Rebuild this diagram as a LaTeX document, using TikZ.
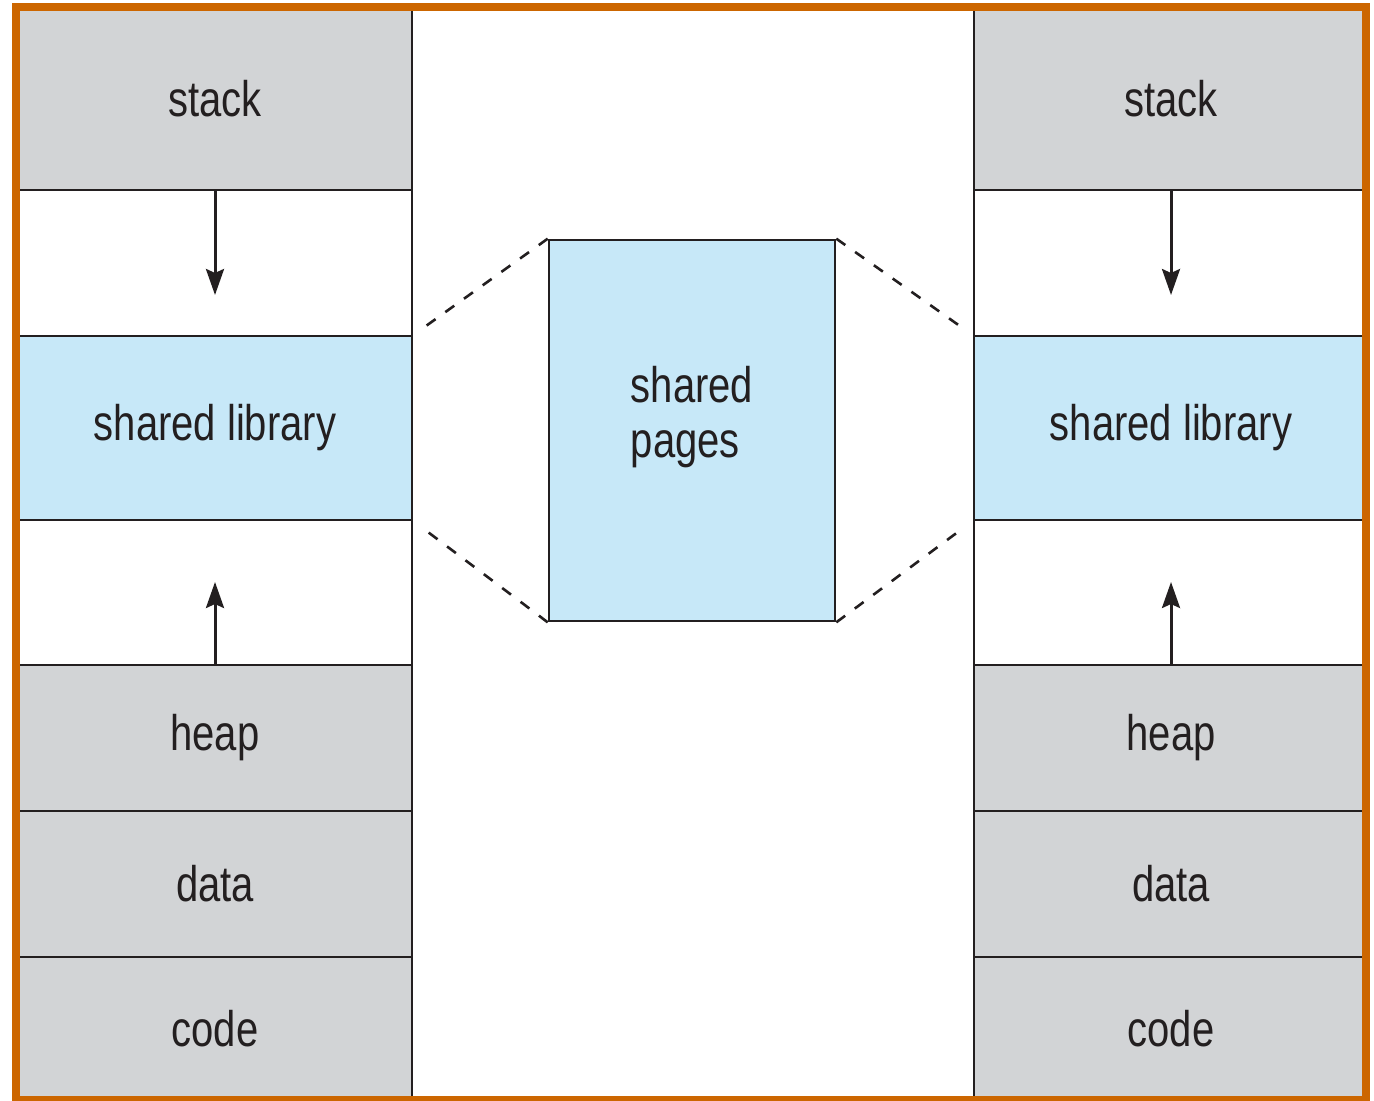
\documentclass[tikz,border=0pt]{standalone}
\usepackage{fontspec}
\setmainfont[FakeStretch=0.8]{Liberation Sans}
\usetikzlibrary{positioning,arrows.meta}
\definecolor{segGray}{RGB}{210,212,214}
\definecolor{segBlue}{RGB}{199,232,248}
\definecolor{frameOrange}{RGB}{204,102,0}
\definecolor{inkGray}{RGB}{35,31,32}
\begin{document}
\begin{tikzpicture}[x=0.5pt,y=-0.5pt,node distance=0pt,
	seg/.style={draw=inkGray,line width=1.3pt,outer sep=0pt,inner sep=0pt,
		minimum width=197pt,minimum height=#1,text=inkGray,
		font=\fontsize{25}{27.5}\selectfont},
	growarrow/.style={-{Stealth[length=13pt,width=9pt,inset=2pt]},line width=1.5pt,draw=inkGray},
	link/.style={dashed,dash pattern=on 5.5pt off 6pt,line width=1.3pt,draw=inkGray,shorten >=9pt}]
	\useasboundingbox (0,0) rectangle (1374,1101);
	% left process
	\node[seg=91.5pt,fill=segGray] (stackL) at (215,98.5) {stack};
	\node[seg=73pt,fill=white,below=of stackL] (gapAL) {};
	\node[seg=92pt,fill=segBlue,below=of gapAL] (libL) {shared library};
	\node[seg=72.5pt,fill=white,below=of libL] (gapBL) {};
	\node[seg=73pt,fill=segGray,below=of gapBL] (heapL) {heap};
	\node[seg=73pt,fill=segGray,below=of heapL] (dataL) {data};
	\node[seg=71.5pt,fill=segGray,below=of dataL] (codeL) {code};
	% right process
	\node[seg=91.5pt,fill=segGray] (stackR) at (1171,98.5) {stack};
	\node[seg=73pt,fill=white,below=of stackR] (gapAR) {};
	\node[seg=92pt,fill=segBlue,below=of gapAR] (libR) {shared library};
	\node[seg=72.5pt,fill=white,below=of libR] (gapBR) {};
	\node[seg=73pt,fill=segGray,below=of gapBR] (heapR) {heap};
	\node[seg=73pt,fill=segGray,below=of heapR] (dataR) {data};
	\node[seg=71.5pt,fill=segGray,below=of dataR] (codeR) {code};
	% physical memory
	\node[draw=inkGray,line width=1.3pt,fill=segBlue,minimum width=143pt,minimum height=190.5pt,
		inner sep=0pt] (pages) at (692,430.5) {};
	\node[align=left,text=inkGray,font=\fontsize{25}{27.5}\selectfont] (pagesText) at (692,417) {shared\\pages};
	% growth arrows
	\coordinate (stackEndL) at ([yshift=-52.5pt]stackL.south);
	\coordinate (heapEndL) at ([yshift=41.5pt]heapL.north);
	\coordinate (stackEndR) at ([yshift=-52.5pt]stackR.south);
	\coordinate (heapEndR) at ([yshift=41.5pt]heapR.north);
	\draw[growarrow] (stackL.south) -- (stackEndL);
	\draw[growarrow] (heapL.north) -- (heapEndL);
	\draw[growarrow] (stackR.south) -- (stackEndR);
	\draw[growarrow] (heapR.north) -- (heapEndR);
	% mapping
	\draw[link] (pages.north west) -- (libL.north east);
	\draw[link] (pages.south west) -- (libL.south east);
	\draw[link] (pages.north east) -- (libR.north west);
	\draw[link] (pages.south east) -- (libR.south west);
	% frame
	\draw[frameOrange,line width=4pt] (16,7) rectangle (1365.5,1100);
\end{tikzpicture}
\end{document}
